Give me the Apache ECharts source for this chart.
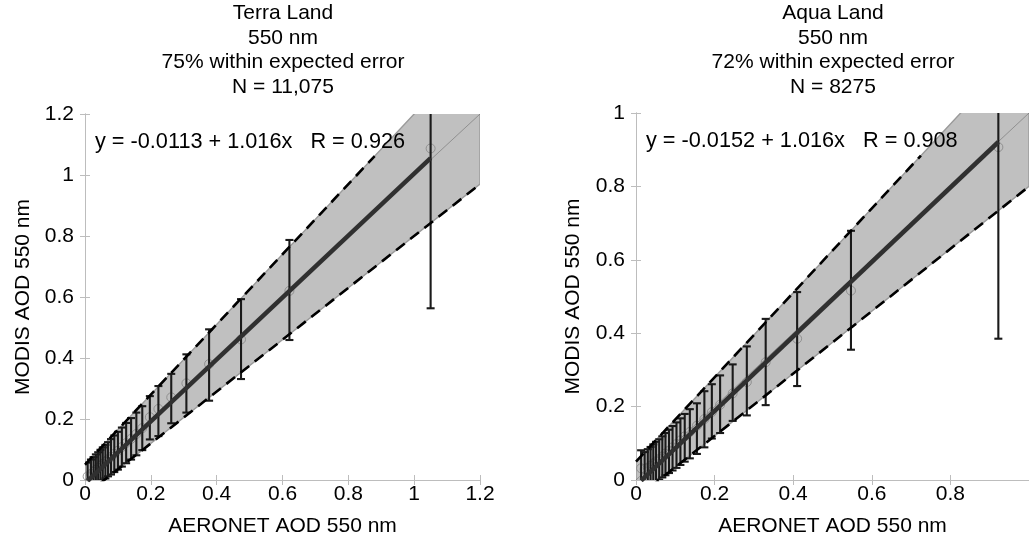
<!DOCTYPE html>
<html style="height: 100%">
<head>
    <meta charset="utf-8">
    <title>MODIS AOD 550 nm vs AERONET</title>
</head>
<body style="height: 100%; margin: 0">
<div id="container" style="width: 1029px; height: 542px"></div>

<script src="https://cdn.jsdelivr.net/npm/echarts@6/dist/echarts.min.js"></script>

<script type="text/javascript">
    // Terra Land, binned by AERONET AOD
    var terraX    = [0.008, 0.018, 0.026, 0.033, 0.040, 0.047, 0.054, 0.062, 0.070, 0.079, 0.089, 0.100, 0.112, 0.125, 0.140, 0.156, 0.174, 0.197, 0.223, 0.262, 0.308, 0.377, 0.474, 0.621, 1.050];
    var terraMean = [0.012, 0.020, 0.027, 0.034, 0.040, 0.047, 0.053, 0.060, 0.068, 0.076, 0.086, 0.096, 0.108, 0.121, 0.135, 0.151, 0.170, 0.206, 0.233, 0.271, 0.317, 0.380, 0.461, 0.620, 1.087];
    var terraLow  = [-0.033, -0.027, -0.021, -0.016, -0.011, -0.005, -0.001, 0.005, 0.012, 0.018, 0.026, 0.034, 0.044, 0.055, 0.067, 0.081, 0.098, 0.133, 0.144, 0.186, 0.221, 0.260, 0.331, 0.459, 0.563];
    var terraHigh = [0.057, 0.067, 0.075, 0.084, 0.091, 0.099, 0.107, 0.115, 0.124, 0.134, 0.146, 0.158, 0.172, 0.187, 0.203, 0.221, 0.242, 0.275, 0.308, 0.348, 0.412, 0.494, 0.593, 0.787, 1.610];
    var terraFit  = [[0.008, -0.003], [1.050, 1.055]];
    var terraBand = [[0, 0.05], [1.2, 1.43], [1.2, 0.97], [0, -0.05]];
    var terraEEUp = [[0, 0.05], [0.88, 1.062]];
    var terraEELo = [[0, -0.05], [1.2, 0.97]];

    // Aqua Land
    var aquaX    = [0.013, 0.022, 0.030, 0.037, 0.044, 0.051, 0.059, 0.067, 0.075, 0.084, 0.093, 0.103, 0.113, 0.124, 0.137, 0.155, 0.174, 0.193, 0.214, 0.246, 0.282, 0.330, 0.410, 0.547, 0.922];
    var aquaMean = [0.032, 0.030, 0.034, 0.039, 0.045, 0.051, 0.057, 0.064, 0.072, 0.080, 0.089, 0.098, 0.108, 0.119, 0.131, 0.148, 0.166, 0.185, 0.205, 0.236, 0.267, 0.321, 0.385, 0.516, 0.907];
    var aquaLow  = [-0.015, -0.020, -0.018, -0.014, -0.009, -0.004, 0.001, 0.007, 0.013, 0.019, 0.026, 0.033, 0.041, 0.050, 0.059, 0.071, 0.089, 0.113, 0.128, 0.161, 0.176, 0.204, 0.256, 0.355, 0.385];
    var aquaHigh = [0.081, 0.076, 0.084, 0.090, 0.097, 0.104, 0.111, 0.119, 0.128, 0.137, 0.147, 0.157, 0.168, 0.180, 0.193, 0.209, 0.242, 0.261, 0.285, 0.315, 0.364, 0.439, 0.512, 0.679, 1.430];
    var aquaFit  = [[0.013, -0.002], [0.922, 0.921]];
    var aquaBand = [[0, 0.05], [1.0, 1.20], [1.0, 0.80], [0, -0.05]];
    var aquaEEUp = [[0, 0.05], [0.725, 0.884]];
    var aquaEELo = [[0, -0.05], [1.0, 0.80]];

    var terraTitle = ['Terra Land', '550 nm', '75% within expected error', 'N = 11,075'];
    var aquaTitle  = ['Aqua Land', '550 nm', '72% within expected error', 'N = 8275'];
    var terraEq = 'y = -0.0113 + 1.016x   R = 0.926';
    var aquaEq  = 'y = -0.0152 + 1.016x   R = 0.908';

    var FONT = '"Liberation Sans", Arial, sans-serif';
    var dom = document.getElementById("container");
    var myChart = echarts.init(dom);

    function zip(xs, a, b) {
        return xs.map(function (x, i) { return b ? [x, a[i], b[i]] : [x, a[i]]; });
    }

    function bandRenderer(band) {
        return function (params, api) {
            if (params.dataIndex !== 0) return;
            var pts = band.map(function (p) { return api.coord(p); });
            return {
                type: 'polygon',
                shape: {points: pts},
                style: {fill: '#c0c0c0', stroke: '#9a9a9a', lineWidth: 1.4}
            };
        };
    }

    function renderErrorBar(params, api) {
        var x = api.value(0);
        var lo = api.coord([x, api.value(1)]);
        var hi = api.coord([x, api.value(2)]);
        var cap = 4;
        var style = {stroke: '#1a1a1a', lineWidth: 2.1};
        return {
            type: 'group',
            children: [
                {type: 'line', shape: {x1: lo[0], y1: lo[1], x2: hi[0], y2: hi[1]}, style: style},
                {type: 'line', shape: {x1: lo[0] - cap, y1: lo[1], x2: lo[0] + cap, y2: lo[1]}, style: style},
                {type: 'line', shape: {x1: hi[0] - cap, y1: hi[1], x2: hi[0] + cap, y2: hi[1]}, style: style}
            ]
        };
    }

    var frame = {lineStyle: {color: '#bdbdbd', width: 1}};
    var tick = {inside: true, length: 5, lineStyle: {color: '#bdbdbd'}};
    var labelStyle = {color: '#000', fontSize: 21, fontFamily: FONT};
    var nameStyle = {color: '#000', fontSize: 21, fontFamily: FONT};

    function xAxes(grid, max) {
        return [{
            type: 'value', gridIndex: grid, min: 0, max: max, interval: 0.2, position: 'bottom',
            axisLine: frame, axisTick: tick, splitLine: {show: false},
            axisLabel: Object.assign({margin: 4, showMaxLabel: max === 1.2}, labelStyle),
            name: 'AERONET AOD 550 nm', nameLocation: 'middle', nameGap: 36, nameTextStyle: nameStyle
        }, {
            type: 'value', gridIndex: grid, min: 0, max: max, interval: 0.2, position: 'top',
            axisLine: frame, axisTick: tick, splitLine: {show: false}, axisLabel: {show: false}
        }];
    }

    function yAxes(grid, max, gap) {
        return [{
            type: 'value', gridIndex: grid, min: 0, max: max, interval: 0.2, position: 'left',
            axisLine: frame, axisTick: tick, splitLine: {show: false},
            axisLabel: Object.assign({margin: 11}, labelStyle),
            name: 'MODIS AOD 550 nm', nameLocation: 'middle', nameGap: gap, nameTextStyle: nameStyle
        }, {
            type: 'value', gridIndex: grid, min: 0, max: max, interval: 0.2, position: 'right',
            axisLine: frame, axisTick: tick, splitLine: {show: false}, axisLabel: {show: false}
        }];
    }

    function panelSeries(ax, band, x, mean, low, high, fit, eeUp, eeLo, maxV) {
        var base = {xAxisIndex: ax, yAxisIndex: ax};
        var dash = {color: '#000', width: 2.6, type: [11, 7]};
        return [
            Object.assign({type: 'custom', z: 1, clip: true, renderItem: bandRenderer(band), data: band, silent: true}, base),
            Object.assign({type: 'line', z: 2, showSymbol: false, data: [[0, 0], [maxV, maxV]],
                lineStyle: {color: '#6e6e6e', width: 0.6}}, base),
            Object.assign({type: 'scatter', z: 3, symbol: 'circle', symbolSize: 9, data: zip(x, mean),
                itemStyle: {color: 'rgba(0,0,0,0)', borderColor: '#858585', borderWidth: 1}}, base),
            Object.assign({type: 'custom', z: 4, clip: true, renderItem: renderErrorBar, data: zip(x, low, high),
                encode: {x: 0, y: [1, 2]}}, base),
            Object.assign({type: 'line', z: 5, showSymbol: false, data: fit,
                lineStyle: {color: '#303030', width: 4.5}}, base),
            Object.assign({type: 'line', z: 6, showSymbol: false, data: eeUp, lineStyle: dash}, base),
            Object.assign({type: 'line', z: 6, showSymbol: false, data: eeLo, lineStyle: dash}, base)
        ];
    }

    var titleText = {color: '#000', fontSize: 21, fontWeight: 'normal', fontFamily: FONT, lineHeight: 24.5};

    option = {
        backgroundColor: '#fff',
        animation: false,
        title: [
            {text: terraTitle.join('\n'), left: 283, top: 1, textAlign: 'center', padding: 0, textStyle: titleText},
            {text: aquaTitle.join('\n'), left: 833, top: 1, textAlign: 'center', padding: 0, textStyle: titleText}
        ],
        grid: [
            {left: 85, top: 114, width: 395, height: 366},
            {left: 636, top: 113, width: 396, height: 368}
        ],
        xAxis: xAxes(0, 1.2).concat(xAxes(1, 1)),
        yAxis: yAxes(0, 1.2, 51).concat(yAxes(1, 1, 52)),
        graphic: [
            {type: 'text', left: 95, top: 131, z: 100,
                style: {text: terraEq, fill: '#000', font: '21.7px ' + FONT}},
            {type: 'text', left: 646, top: 130, z: 100,
                style: {text: aquaEq, fill: '#000', font: '21.7px ' + FONT}}
        ],
        series: []
            .concat(panelSeries(0, terraBand, terraX, terraMean, terraLow, terraHigh, terraFit, terraEEUp, terraEELo, 1.2))
            .concat(panelSeries(2, aquaBand, aquaX, aquaMean, aquaLow, aquaHigh, aquaFit, aquaEEUp, aquaEELo, 1))
    };
    // series above reference axis indexes 0 (left panel) and 2 (right panel)
    myChart.setOption(option, true);
</script>
</body>
</html>
